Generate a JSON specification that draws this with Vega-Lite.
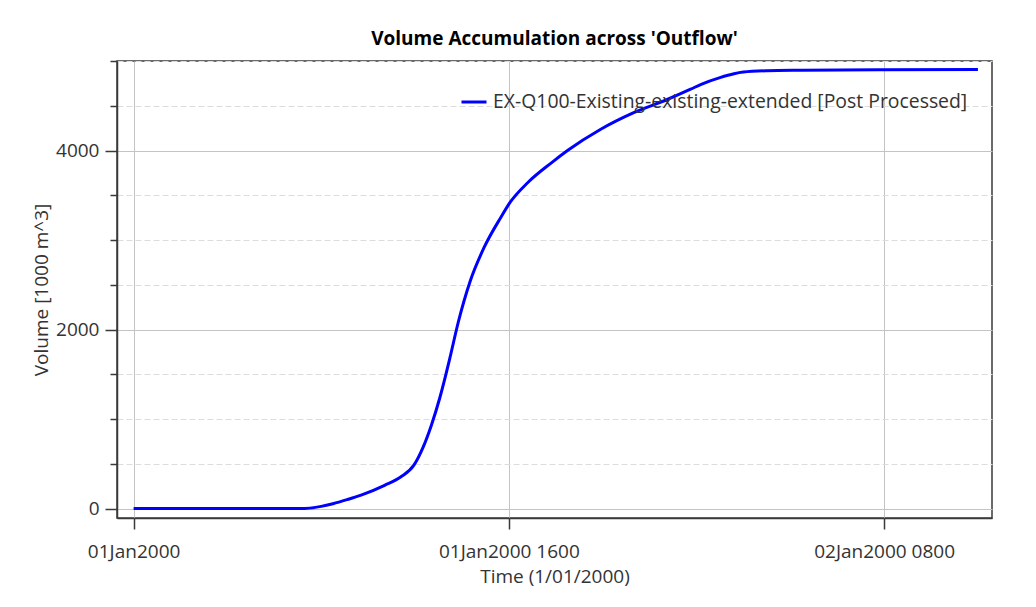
{
  "$schema": "https://vega.github.io/schema/vega-lite/v6.json",
  "autosize": {"type": "none"},
  "width": 875,
  "height": 457,
  "padding": {"left": 117, "top": 61, "right": 44, "bottom": 89},
  "background": "white",
  "title": {
    "text": "Volume Accumulation across 'Outflow'",
    "font": "Open Sans",
    "fontSize": 19,
    "fontWeight": "bold",
    "color": "#000000",
    "anchor": "middle",
    "frame": "group",
    "baseline": "alphabetic",
    "offset": 14,
    "dy": 26
  },
  "data": {
    "values": [
      {"time": "2000-01-01T00:00:00", "volume": 0, "series": "EX-Q100-Existing-existing-extended [Post Processed]"},
      {"time": "2000-01-01T03:00:00", "volume": 0, "series": "EX-Q100-Existing-existing-extended [Post Processed]"},
      {"time": "2000-01-01T06:00:00", "volume": 0, "series": "EX-Q100-Existing-existing-extended [Post Processed]"},
      {"time": "2000-01-01T07:06:00", "volume": 0, "series": "EX-Q100-Existing-existing-extended [Post Processed]"},
      {"time": "2000-01-01T08:00:00", "volume": 25, "series": "EX-Q100-Existing-existing-extended [Post Processed]"},
      {"time": "2000-01-01T08:30:00", "volume": 55, "series": "EX-Q100-Existing-existing-extended [Post Processed]"},
      {"time": "2000-01-01T09:06:00", "volume": 100, "series": "EX-Q100-Existing-existing-extended [Post Processed]"},
      {"time": "2000-01-01T09:42:00", "volume": 150, "series": "EX-Q100-Existing-existing-extended [Post Processed]"},
      {"time": "2000-01-01T10:42:00", "volume": 260, "series": "EX-Q100-Existing-existing-extended [Post Processed]"},
      {"time": "2000-01-01T11:24:00", "volume": 355, "series": "EX-Q100-Existing-existing-extended [Post Processed]"},
      {"time": "2000-01-01T11:57:00", "volume": 485, "series": "EX-Q100-Existing-existing-extended [Post Processed]"},
      {"time": "2000-01-01T12:21:00", "volume": 690, "series": "EX-Q100-Existing-existing-extended [Post Processed]"},
      {"time": "2000-01-01T12:42:00", "volume": 935, "series": "EX-Q100-Existing-existing-extended [Post Processed]"},
      {"time": "2000-01-01T13:03:00", "volume": 1233, "series": "EX-Q100-Existing-existing-extended [Post Processed]"},
      {"time": "2000-01-01T13:18:00", "volume": 1483, "series": "EX-Q100-Existing-existing-extended [Post Processed]"},
      {"time": "2000-01-01T13:30:00", "volume": 1699, "series": "EX-Q100-Existing-existing-extended [Post Processed]"},
      {"time": "2000-01-01T13:51:00", "volume": 2090, "series": "EX-Q100-Existing-existing-extended [Post Processed]"},
      {"time": "2000-01-01T14:21:00", "volume": 2540, "series": "EX-Q100-Existing-existing-extended [Post Processed]"},
      {"time": "2000-01-01T14:57:00", "volume": 2920, "series": "EX-Q100-Existing-existing-extended [Post Processed]"},
      {"time": "2000-01-01T15:39:00", "volume": 3250, "series": "EX-Q100-Existing-existing-extended [Post Processed]"},
      {"time": "2000-01-01T16:03:00", "volume": 3420, "series": "EX-Q100-Existing-existing-extended [Post Processed]"},
      {"time": "2000-01-01T16:48:00", "volume": 3640, "series": "EX-Q100-Existing-existing-extended [Post Processed]"},
      {"time": "2000-01-01T17:48:00", "volume": 3860, "series": "EX-Q100-Existing-existing-extended [Post Processed]"},
      {"time": "2000-01-01T18:30:00", "volume": 4000, "series": "EX-Q100-Existing-existing-extended [Post Processed]"},
      {"time": "2000-01-01T19:54:00", "volume": 4235, "series": "EX-Q100-Existing-existing-extended [Post Processed]"},
      {"time": "2000-01-01T21:18:00", "volume": 4420, "series": "EX-Q100-Existing-existing-extended [Post Processed]"},
      {"time": "2000-01-01T22:45:00", "volume": 4570, "series": "EX-Q100-Existing-existing-extended [Post Processed]"},
      {"time": "2000-01-01T23:45:00", "volume": 4685, "series": "EX-Q100-Existing-existing-extended [Post Processed]"},
      {"time": "2000-01-02T00:12:00", "volume": 4740, "series": "EX-Q100-Existing-existing-extended [Post Processed]"},
      {"time": "2000-01-02T01:00:00", "volume": 4815, "series": "EX-Q100-Existing-existing-extended [Post Processed]"},
      {"time": "2000-01-02T01:36:00", "volume": 4858, "series": "EX-Q100-Existing-existing-extended [Post Processed]"},
      {"time": "2000-01-02T02:00:00", "volume": 4876, "series": "EX-Q100-Existing-existing-extended [Post Processed]"},
      {"time": "2000-01-02T03:00:00", "volume": 4891, "series": "EX-Q100-Existing-existing-extended [Post Processed]"},
      {"time": "2000-01-02T04:30:00", "volume": 4897, "series": "EX-Q100-Existing-existing-extended [Post Processed]"},
      {"time": "2000-01-02T08:00:00", "volume": 4903, "series": "EX-Q100-Existing-existing-extended [Post Processed]"},
      {"time": "2000-01-02T12:00:00", "volume": 4905, "series": "EX-Q100-Existing-existing-extended [Post Processed]"}
    ]
  },
  "mark": {"type": "line", "interpolate": "monotone", "strokeWidth": 3, "clip": true},
  "encoding": {
    "x": {
      "field": "time",
      "type": "temporal",
      "scale": {
        "domain": [
          {"year": 1999, "month": 12, "date": 31, "hours": 23, "minutes": 17, "seconds": 30},
          {"year": 2000, "month": 1, "date": 2, "hours": 12, "minutes": 36}
        ]
      },
      "axis": {
        "title": "Time (1/01/2000)",
        "values": [
          {"year": 2000, "month": 1, "date": 1},
          {"year": 2000, "month": 1, "date": 1, "hours": 16},
          {"year": 2000, "month": 1, "date": 2, "hours": 8}
        ],
        "labelExpr": "hours(datum.value) === 0 ? timeFormat(datum.value, '%d%b%Y') : timeFormat(datum.value, '%d%b%Y %H%M')",
        "tickSize": 11,
        "labelPadding": 13,
        "labelFlush": false,
        "labelOverlap": false,
        "grid": true,
        "gridColor": "#c4c4c4",
        "titlePadding": 6
      }
    },
    "y": {
      "field": "volume",
      "type": "quantitative",
      "scale": {"domain": [-105, 5000], "nice": false, "zero": false},
      "axis": {
        "title": "Volume [1000 m^3]",
        "values": [0, 500, 1000, 1500, 2000, 2500, 3000, 3500, 4000, 4500, 5000],
        "format": "d",
        "labelExpr": "datum.value % 2000 === 0 ? datum.label : ''",
        "tickSize": {"condition": {"test": "datum.value % 2000 === 0", "value": 12}, "value": 7},
        "gridDash": {"condition": {"test": "datum.value % 2000 === 0", "value": []}, "value": [6, 3]},
        "gridColor": {"condition": {"test": "datum.value % 2000 === 0", "value": "#c4c4c4"}, "value": "#dcdcdc"},
        "labelPadding": 6,
        "labelOverlap": false,
        "titlePadding": 4
      }
    },
    "color": {
      "field": "series",
      "type": "nominal",
      "scale": {"range": ["#0000ff"]},
      "legend": {
        "title": null,
        "orient": "none",
        "legendX": 343,
        "legendY": 27,
        "symbolType": "stroke",
        "symbolSize": 625,
        "symbolStrokeWidth": 3,
        "labelFont": "Open Sans",
        "labelFontSize": 19.4,
        "labelColor": "#333333",
        "labelLimit": 800,
        "labelOffset": 5
      }
    }
  },
  "config": {
    "font": "Open Sans",
    "view": {"stroke": "#3a3a3a", "strokeWidth": 1.5},
    "axis": {
      "labelFont": "Open Sans",
      "labelFontSize": 19,
      "labelColor": "#333333",
      "titleFont": "Open Sans",
      "titleFontSize": 19,
      "titleFontWeight": "normal",
      "titleColor": "#333333",
      "domainColor": "#3a3a3a",
      "domainWidth": 1.5,
      "tickColor": "#3a3a3a",
      "tickWidth": 1.5,
      "gridWidth": 1
    }
  }
}
